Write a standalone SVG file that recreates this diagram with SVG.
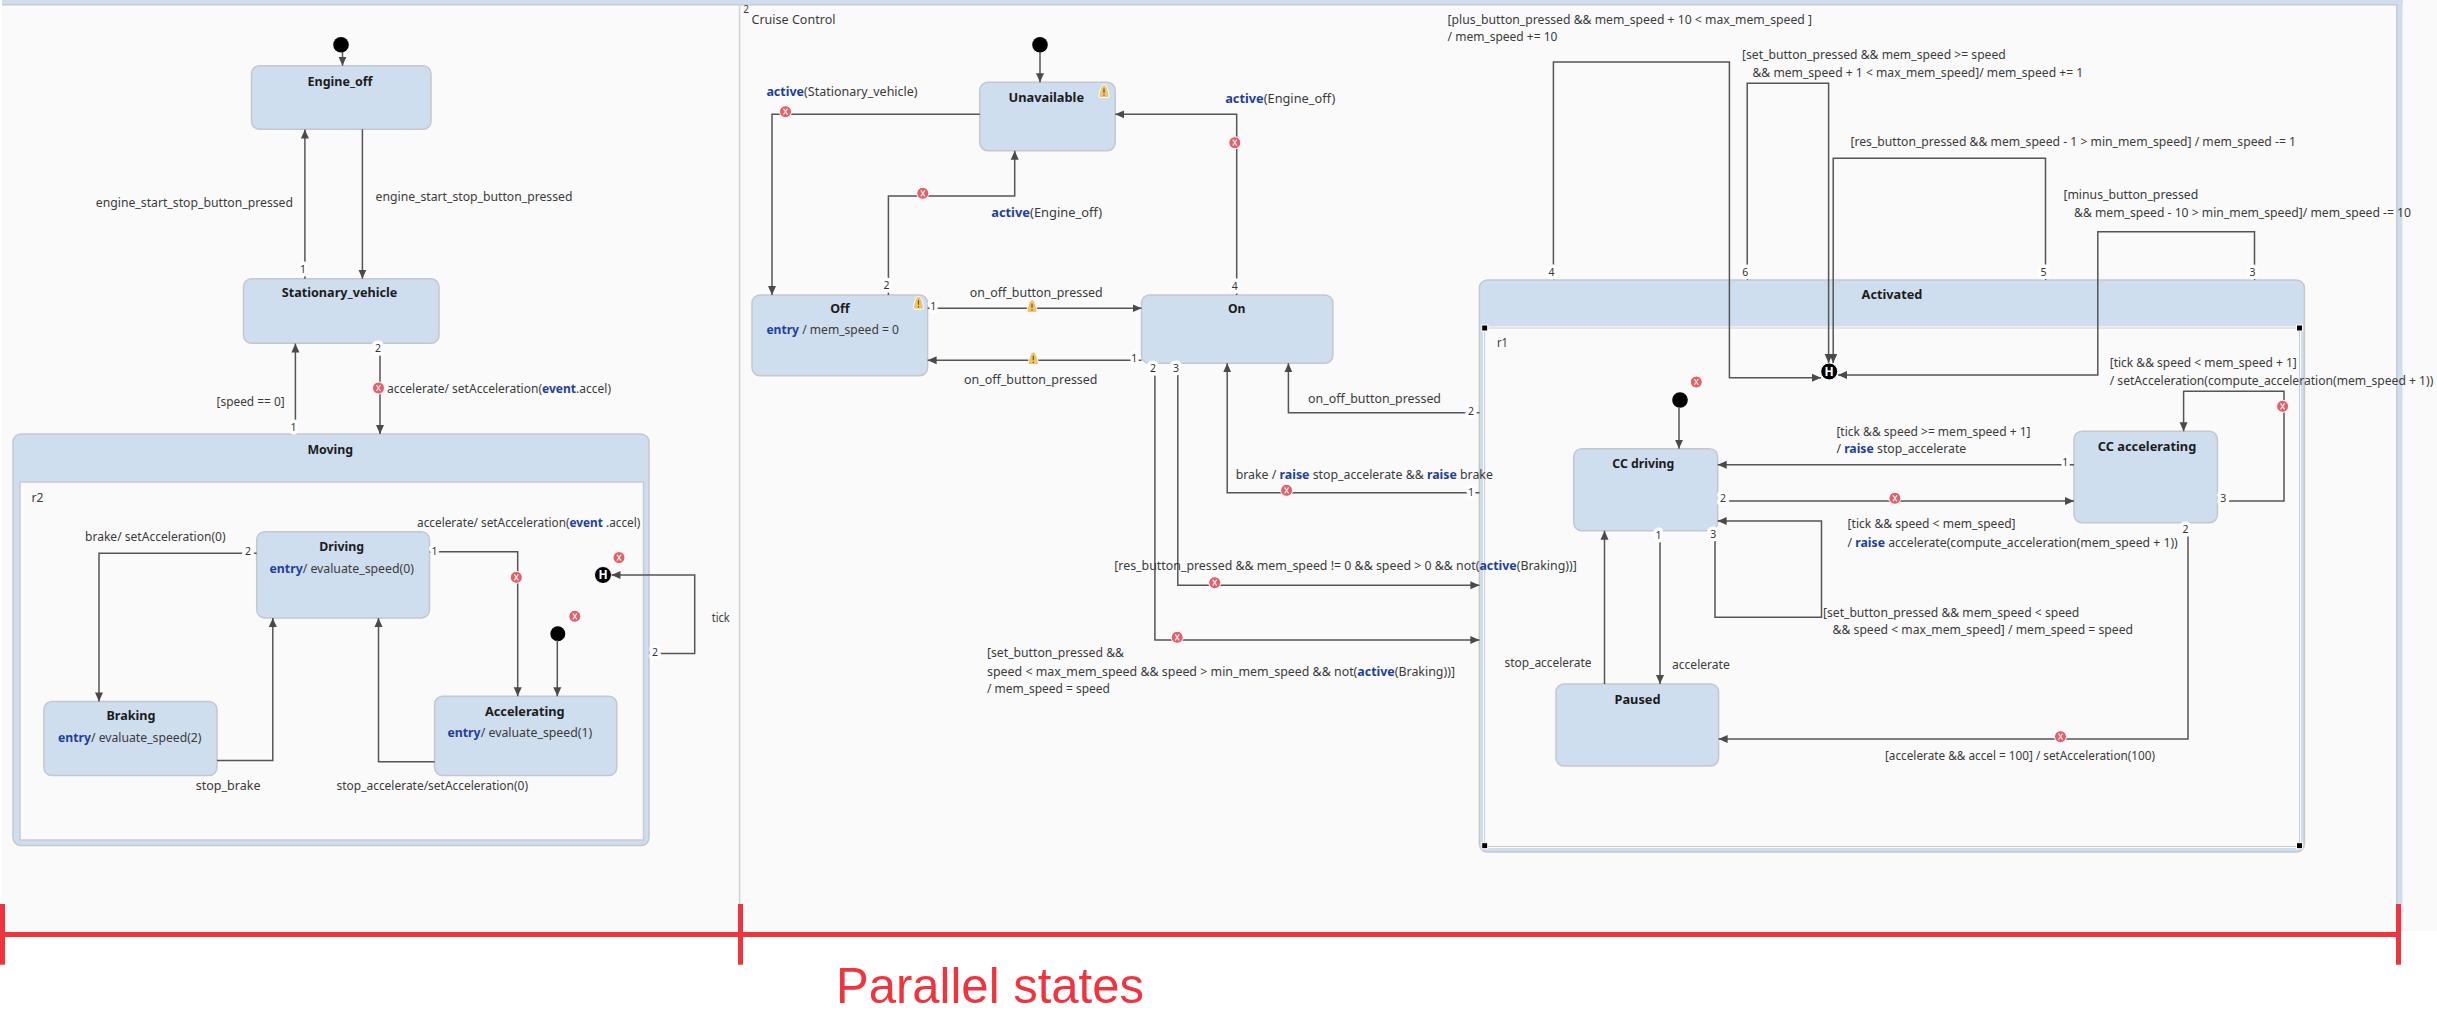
<svg xmlns="http://www.w3.org/2000/svg" width="2437" height="1036" viewBox="0 0 2437 1036">
<style>
text{font-family:"Noto Sans","Liberation Sans",sans-serif}
.l{font-size:12px;fill:#3a3a3a}
.t{font-size:12.5px;font-weight:bold;fill:#1c1c1c;text-anchor:middle}
.k{font-weight:bold;fill:#1f3f9c}
.n{font-size:10.5px;fill:#333;text-anchor:middle;paint-order:stroke;stroke:#fff;stroke-width:7px;stroke-linejoin:round}
.s{fill:#cfdeef;stroke:#c3c8cf;stroke-width:1.5}
.r{fill:#fafafa;stroke:#c8ccd0;stroke-width:1.5}
.c{fill:none;stroke:#555;stroke-width:1.5;marker-end:url(#a)}
.i{fill:#000}
.h{fill:#000;stroke:#fff;stroke-width:1}
.red{fill:#f0333c}
</style>
<defs>
<marker id="a" markerUnits="userSpaceOnUse" markerWidth="10" markerHeight="10" refX="9" refY="5" orient="auto"><path d="M0,1 L9,5 L0,9 Z" fill="#4a4a4a"/></marker>
<g id="err"><circle r="6" fill="#e2606a" stroke="#fff" stroke-width="1"/><path d="M-2,-3 L2,3 M2,-3 L-2,3" stroke="#fbe9e9" stroke-width="1.2" fill="none"/></g>
<g id="warn"><path d="M0,-6.5 C3,-6.5 5,3 5,5 Q5,6.5 3.5,6.5 L-3.5,6.5 Q-5,6.5 -5,5 C-5,3 -3,-6.5 0,-6.5 Z" fill="#eec46a" stroke="#fff" stroke-width="1"/><path d="M0,-2.5 L0,2 M0,3.4 L0,4.8" stroke="#6b5520" stroke-width="1.2" fill="none"/></g>
</defs>
<rect id="canvas" x="2" y="0" width="2435" height="931" fill="#fafafa"/>
<g id="parallel-frame">
<rect x="2" y="0" width="2401" height="4" fill="#cfdeef"/>
<rect x="2" y="4" width="2395" height="1.5" fill="#c8ccd0"/>
<rect x="2397" y="0" width="5.5" height="931" fill="#cfdeef"/>
<rect x="2396" y="4" width="1.5" height="927" fill="#c8ccd0"/>
<rect x="738.8" y="4" width="1.5" height="927" fill="#d2d2d2"/>
<text class="l" x="746" y="13" style="font-size:10px" text-anchor="middle">2</text>
<text class="l" x="751.5" y="24" textLength="84" lengthAdjust="spacingAndGlyphs">Cruise Control</text>
</g>
<g id="Engine_off"><rect class="s" x="251.5" y="65.7" width="179.5" height="63.6" rx="8"/><text class="t" x="340" y="85.7" textLength="65" lengthAdjust="spacingAndGlyphs">Engine_off</text></g>
<g id="Stationary_vehicle"><rect class="s" x="243.5" y="278.7" width="195.5" height="64.6" rx="8"/><text class="t" x="339.5" y="296.7" textLength="115.6" lengthAdjust="spacingAndGlyphs">Stationary_vehicle</text></g>
<g id="Moving"><rect class="s" x="13" y="434" width="636" height="411.5" rx="8"/><rect class="r" x="20" y="482" width="623.5" height="358"/><text class="t" x="330.3" y="454" textLength="45.8" lengthAdjust="spacingAndGlyphs">Moving</text><text class="l" x="31.6" y="502" textLength="12" lengthAdjust="spacingAndGlyphs">r2</text></g>
<g id="Driving"><rect class="s" x="256.7" y="531.7" width="172.8" height="86.2" rx="8"/><text class="t" x="341.7" y="551.4" textLength="44.8" lengthAdjust="spacingAndGlyphs">Driving</text><text class="l" x="269.5" y="573" textLength="144.4" lengthAdjust="spacingAndGlyphs"><tspan class="k">entry</tspan>/ evaluate_speed(0)</text></g>
<g id="Braking"><rect class="s" x="43.9" y="701.4" width="173.1" height="74.2" rx="8"/><text class="t" x="131" y="720" textLength="49" lengthAdjust="spacingAndGlyphs">Braking</text><text class="l" x="58" y="741.6" textLength="143.5" lengthAdjust="spacingAndGlyphs"><tspan class="k">entry</tspan>/ evaluate_speed(2)</text></g>
<g id="Accelerating"><rect class="s" x="434.6" y="696.3" width="182.2" height="79.3" rx="8"/><text class="t" x="524.8" y="716" textLength="79.8" lengthAdjust="spacingAndGlyphs">Accelerating</text><text class="l" x="447.4" y="737.3" textLength="144.9" lengthAdjust="spacingAndGlyphs"><tspan class="k">entry</tspan>/ evaluate_speed(1)</text></g>
<g id="Moving_initial"><circle class="i" cx="557.8" cy="633.7" r="7.5"/></g>
<g id="Moving_history"><circle class="h" cx="603" cy="575" r="8.5"/><text x="603" y="579.3" font-size="12" font-weight="bold" fill="#fff" text-anchor="middle">H</text></g>
<g id="Engine_initial"><circle class="i" cx="341" cy="44.7" r="7.8"/></g>
<g id="Unavailable"><rect class="s" x="979.8" y="82.3" width="135.4" height="68.4" rx="8"/><text class="t" x="1046.3" y="101.7" textLength="75.6" lengthAdjust="spacingAndGlyphs">Unavailable</text><use href="#warn" x="1104" y="91"/></g>
<g id="Off"><rect class="s" x="752" y="295" width="175.6" height="80.7" rx="8"/><text class="t" x="840" y="313.3" textLength="19.5" lengthAdjust="spacingAndGlyphs">Off</text><text class="l" x="766.4" y="334" textLength="132.6" lengthAdjust="spacingAndGlyphs"><tspan class="k">entry</tspan> / mem_speed = 0</text><use href="#warn" x="918.5" y="302.7"/></g>
<g id="On"><rect class="s" x="1141.5" y="295" width="191.4" height="68.3" rx="8"/><text class="t" x="1236.7" y="313.3" textLength="17.5" lengthAdjust="spacingAndGlyphs">On</text></g>
<g id="Cruise_initial"><circle class="i" cx="1040" cy="44.7" r="7.8"/></g>
<g id="Activated"><rect class="s" x="1479.4" y="280" width="825" height="572" rx="8"/><rect x="1484.7" y="328" width="814.8" height="518.5" fill="none" stroke="#fff" stroke-width="3"/><rect class="r" x="1484.7" y="328" width="814.8" height="518.5" style="stroke-width:1"/><text class="t" x="1892" y="299.3" textLength="60.8" lengthAdjust="spacingAndGlyphs">Activated</text><text class="l" x="1497" y="347" textLength="11" lengthAdjust="spacingAndGlyphs">r1</text>
<g fill="#000" stroke="#fff" stroke-width="1"><rect x="1481.7" y="325" width="6" height="6"/><rect x="2296.5" y="325" width="6" height="6"/><rect x="1481.7" y="842.7" width="6" height="6"/><rect x="2296.5" y="842.7" width="6" height="6"/></g></g>
<g id="CC_driving"><rect class="s" x="1573.7" y="448.7" width="144" height="82" rx="8"/><text class="t" x="1643.3" y="468.3" textLength="62" lengthAdjust="spacingAndGlyphs">CC driving</text></g>
<g id="CC_accelerating"><rect class="s" x="2074" y="431.3" width="143.4" height="91.4" rx="8"/><text class="t" x="2147" y="451" textLength="98.5" lengthAdjust="spacingAndGlyphs">CC accelerating</text></g>
<g id="Paused"><rect class="s" x="1556" y="684" width="162.6" height="82" rx="8"/><text class="t" x="1637.5" y="704" textLength="46" lengthAdjust="spacingAndGlyphs">Paused</text></g>
<g id="Activated_initial"><circle class="i" cx="1680" cy="400" r="7.8"/></g>
<g id="Activated_history"><circle class="h" cx="1829.2" cy="371.5" r="8.5"/><text x="1829.2" y="375.8" font-size="12" font-weight="bold" fill="#fff" text-anchor="middle">H</text></g>
<g id="connectors">
<polyline class="c" points="342.5,52 342.5,65.7"/>
<polyline class="c" points="304.9,278.7 304.9,129.5"/>
<polyline class="c" points="362.4,129.3 362.4,278.7"/>
<polyline class="c" points="295.4,434 295.4,343.5"/>
<polyline class="c" points="380,343.3 380,434"/>
<polyline class="c" points="256.7,553.3 99,553.3 99,701.4"/>
<polyline class="c" points="429.5,551.8 517.7,551.8 517.7,696.3"/>
<polyline class="c" points="649,653.4 694.7,653.4 694.7,575 611.5,575"/>
<polyline class="c" points="557.3,640 557.3,696.3"/>
<polyline class="c" points="217,760.5 272.8,760.5 272.8,618"/>
<polyline class="c" points="434.6,761.7 378.5,761.7 378.5,618"/>
<polyline class="c" points="1040,52 1040,82.3"/>
<polyline class="c" points="979.8,114.3 772,114.3 772,295"/>
<polyline class="c" points="888.4,295 888.4,196 1014.7,196 1014.7,150.7"/>
<polyline class="c" points="1236.7,295 1236.7,114.3 1115.2,114.3"/>
<polyline class="c" points="927.6,308.3 1141.5,308.3"/>
<polyline class="c" points="1141.5,360.3 927.6,360.3"/>
<polyline class="c" points="1479.4,412.7 1288.4,412.7 1288.4,363.3"/>
<polyline class="c" points="1479.4,492.7 1227.2,492.7 1227.2,363.3"/>
<polyline class="c" points="1177.8,363.3 1177.8,585.3 1479.4,585.3"/>
<polyline class="c" points="1154.9,363.3 1154.9,640 1479.4,640"/>
<polyline class="c" points="1553.4,280 1553.4,62 1729.4,62 1729.4,377.7 1821,377.7"/>
<polyline class="c" points="1747.2,280 1747.2,83.3 1828.6,83.3 1828.6,363"/>
<polyline class="c" points="2045.5,280 2045.5,158.3 1833.2,158.3 1833.2,363"/>
<polyline class="c" points="2254.5,280 2254.5,231.7 2097.8,231.7 2097.8,375 1838,375"/>
<polyline class="c" points="1679,407.5 1679,448.7"/>
<polyline class="c" points="1604.5,684 1604.5,530.7"/>
<polyline class="c" points="1660,530.7 1660,684"/>
<polyline class="c" points="2074,464.7 1717.7,464.7"/>
<polyline class="c" points="1717.7,501 2074,501"/>
<polyline class="c" points="1715,530.7 1715,617.3 1821.5,617.3 1821.5,521 1717.7,521"/>
<polyline class="c" points="2217.4,501 2284,501 2284,391.3 2183.6,391.3 2183.6,431.3"/>
<polyline class="c" points="2188,522.7 2188,739 1718.6,739"/>
</g>
<g id="connector-icons">
<use href="#err" x="378.5" y="388"/><use href="#err" x="516.3" y="577.3"/><use href="#err" x="619" y="557.6"/><use href="#err" x="574.8" y="616.3"/>
<use href="#err" x="785.5" y="111.7"/><use href="#err" x="922.8" y="193.3"/><use href="#err" x="1234.8" y="142.7"/><use href="#warn" x="1032" y="306"/><use href="#warn" x="1033.3" y="358.3"/>
<use href="#err" x="1286.6" y="490.3"/><use href="#err" x="1214.7" y="582.7"/><use href="#err" x="1177.2" y="637.3"/><use href="#err" x="1696.3" y="382"/><use href="#err" x="1894.9" y="498.3"/><use href="#err" x="2282.6" y="406.3"/><use href="#err" x="2060.5" y="736.7"/>
</g>
<g id="priorities">
<text class="n" x="303" y="273">1</text><text class="n" x="293.5" y="431">1</text><text class="n" x="378" y="352">2</text><text class="n" x="248" y="554.6">2</text><text class="n" x="434.6" y="555">1</text><text class="n" x="655" y="656">2</text>
<text class="n" x="886.5" y="289">2</text><text class="n" x="1234.8" y="289.7">4</text><text class="n" x="933.3" y="309.7">1</text><text class="n" x="1134.3" y="361.7">1</text><text class="n" x="1153" y="372">2</text><text class="n" x="1176" y="372">3</text>
<text class="n" x="1471" y="415">2</text><text class="n" x="1471" y="495.7">1</text><text class="n" x="1551.5" y="276">4</text><text class="n" x="1745.2" y="276">6</text><text class="n" x="2043.5" y="276">5</text><text class="n" x="2252.5" y="276">3</text>
<text class="n" x="1658.5" y="538.7">1</text><text class="n" x="2065.3" y="466.3">1</text><text class="n" x="1723" y="502">2</text><text class="n" x="1713.3" y="538">3</text><text class="n" x="2223.2" y="502">3</text><text class="n" x="2185.6" y="533">2</text>
</g>
<g id="connector-labels">
<text class="l" x="95.8" y="207" textLength="197.2" lengthAdjust="spacingAndGlyphs">engine_start_stop_button_pressed</text>
<text class="l" x="375.6" y="201" textLength="196.8" lengthAdjust="spacingAndGlyphs">engine_start_stop_button_pressed</text>
<text class="l" x="216.6" y="406" textLength="68" lengthAdjust="spacingAndGlyphs">[speed == 0]</text>
<text class="l" x="387" y="392.7" textLength="224" lengthAdjust="spacingAndGlyphs">accelerate/ setAcceleration(<tspan class="k">event</tspan>.accel)</text>
<text class="l" x="85" y="540.6" textLength="140.6" lengthAdjust="spacingAndGlyphs">brake/ setAcceleration(0)</text>
<text class="l" x="417" y="527" textLength="223.4" lengthAdjust="spacingAndGlyphs">accelerate/ setAcceleration(<tspan class="k">event</tspan> .accel)</text>
<text class="l" x="711.7" y="622" textLength="17.9" lengthAdjust="spacingAndGlyphs">tick</text>
<text class="l" x="195.8" y="789.5" textLength="64.7" lengthAdjust="spacingAndGlyphs">stop_brake</text>
<text class="l" x="336.5" y="789.5" textLength="191.5" lengthAdjust="spacingAndGlyphs">stop_accelerate/setAcceleration(0)</text>
<text class="l" x="766.4" y="96" textLength="151.2" lengthAdjust="spacingAndGlyphs"><tspan class="k">active</tspan>(Stationary_vehicle)</text>
<text class="l" x="991.2" y="216.7" textLength="111" lengthAdjust="spacingAndGlyphs"><tspan class="k">active</tspan>(Engine_off)</text>
<text class="l" x="1225.2" y="102.7" textLength="110.1" lengthAdjust="spacingAndGlyphs"><tspan class="k">active</tspan>(Engine_off)</text>
<text class="l" x="969.7" y="296.7" textLength="133" lengthAdjust="spacingAndGlyphs">on_off_button_pressed</text>
<text class="l" x="964" y="384" textLength="133.5" lengthAdjust="spacingAndGlyphs">on_off_button_pressed</text>
<text class="l" x="1308" y="402.7" textLength="133" lengthAdjust="spacingAndGlyphs">on_off_button_pressed</text>
<text class="l" x="1235.7" y="479" textLength="257.2" lengthAdjust="spacingAndGlyphs">brake / <tspan class="k">raise</tspan> stop_accelerate &amp;&amp; <tspan class="k">raise</tspan> brake</text>
<text class="l" x="1114.3" y="570" textLength="462.5" lengthAdjust="spacingAndGlyphs">[res_button_pressed &amp;&amp; mem_speed != 0 &amp;&amp; speed &gt; 0 &amp;&amp; not(<tspan class="k">active</tspan>(Braking))]</text>
<text class="l" x="987" y="657.3" textLength="137" lengthAdjust="spacingAndGlyphs">[set_button_pressed &amp;&amp;</text>
<text class="l" x="987" y="676" textLength="468" lengthAdjust="spacingAndGlyphs">speed &lt; max_mem_speed &amp;&amp; speed &gt; min_mem_speed &amp;&amp; not(<tspan class="k">active</tspan>(Braking))]</text>
<text class="l" x="987" y="693.3" textLength="123" lengthAdjust="spacingAndGlyphs">/ mem_speed = speed</text>
<text class="l" x="1447.6" y="24" textLength="364.4" lengthAdjust="spacingAndGlyphs">[plus_button_pressed &amp;&amp; mem_speed + 10 &lt; max_mem_speed ]</text>
<text class="l" x="1447.6" y="41.3" textLength="109.8" lengthAdjust="spacingAndGlyphs">/ mem_speed += 10</text>
<text class="l" x="1742" y="58.7" textLength="263.8" lengthAdjust="spacingAndGlyphs">[set_button_pressed &amp;&amp; mem_speed &gt;= speed</text>
<text class="l" x="1752.5" y="77.3" textLength="330.7" lengthAdjust="spacingAndGlyphs">&amp;&amp; mem_speed + 1 &lt; max_mem_speed]/ mem_speed += 1</text>
<text class="l" x="1850.4" y="145.7" textLength="445.6" lengthAdjust="spacingAndGlyphs">[res_button_pressed &amp;&amp; mem_speed - 1 &gt; min_mem_speed] / mem_speed -= 1</text>
<text class="l" x="2063.4" y="199" textLength="134.9" lengthAdjust="spacingAndGlyphs">[minus_button_pressed</text>
<text class="l" x="2074" y="216.7" textLength="337" lengthAdjust="spacingAndGlyphs">&amp;&amp; mem_speed - 10 &gt; min_mem_speed]/ mem_speed -= 10</text>
<text class="l" x="2109.7" y="366.7" textLength="187.1" lengthAdjust="spacingAndGlyphs">[tick &amp;&amp; speed &lt; mem_speed + 1]</text>
<text class="l" x="2109.7" y="385" textLength="323.6" lengthAdjust="spacingAndGlyphs">/ setAcceleration(compute_acceleration(mem_speed + 1))</text>
<text class="l" x="1836.4" y="436" textLength="194.1" lengthAdjust="spacingAndGlyphs">[tick &amp;&amp; speed &gt;= mem_speed + 1]</text>
<text class="l" x="1836.4" y="453.3" textLength="129.9" lengthAdjust="spacingAndGlyphs">/ <tspan class="k">raise</tspan> stop_accelerate</text>
<text class="l" x="1847.6" y="528" textLength="168" lengthAdjust="spacingAndGlyphs">[tick &amp;&amp; speed &lt; mem_speed]</text>
<text class="l" x="1847.6" y="547" textLength="330.2" lengthAdjust="spacingAndGlyphs">/ <tspan class="k">raise</tspan> accelerate(compute_acceleration(mem_speed + 1))</text>
<text class="l" x="1823" y="616.7" textLength="256.3" lengthAdjust="spacingAndGlyphs">[set_button_pressed &amp;&amp; mem_speed &lt; speed</text>
<text class="l" x="1832.6" y="634" textLength="300.4" lengthAdjust="spacingAndGlyphs">&amp;&amp; speed &lt; max_mem_speed] / mem_speed = speed</text>
<text class="l" x="1504.5" y="666.7" textLength="87" lengthAdjust="spacingAndGlyphs">stop_accelerate</text>
<text class="l" x="1672" y="669" textLength="57.7" lengthAdjust="spacingAndGlyphs">accelerate</text>
<text class="l" x="1885" y="760" textLength="270" lengthAdjust="spacingAndGlyphs">[accelerate &amp;&amp; accel = 100] / setAcceleration(100)</text>
</g>
<g id="annotation">
<rect class="red" x="0" y="904" width="5" height="60.7"/>
<rect class="red" x="738" y="904" width="5" height="60.7"/>
<rect class="red" x="2396" y="904" width="5" height="60.7"/>
<rect class="red" x="0" y="932" width="2398" height="5"/>
<text x="836" y="1003" textLength="308" lengthAdjust="spacingAndGlyphs" style="font-family:'Liberation Sans',Arial,sans-serif;font-size:50px;fill:#f0333c">Parallel states</text>
</g>
</svg>
